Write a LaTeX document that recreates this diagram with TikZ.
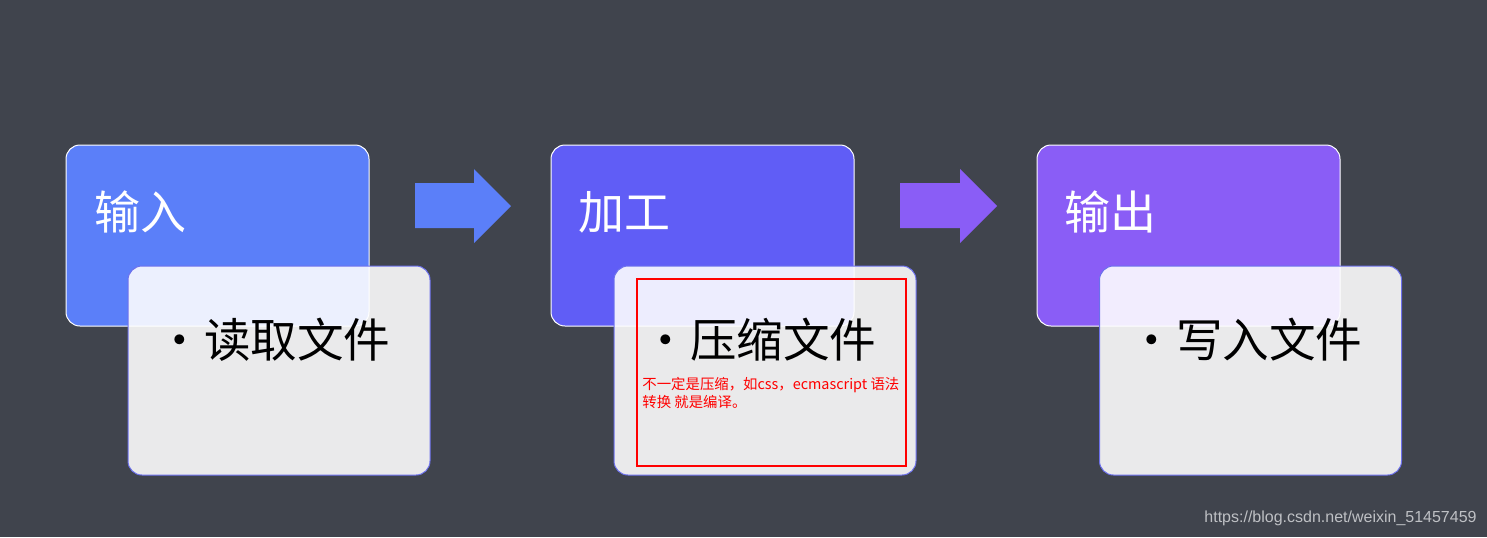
\documentclass[tikz,border=0pt]{standalone}
\usepackage{fontspec}
\setmainfont{Noto Sans CJK SC}
\newfontfamily\urlfont{Liberation Sans}
\usepackage{tikz}
\usetikzlibrary{positioning}

\definecolor{bgdark}{RGB}{64,68,77}
\definecolor{inblue}{RGB}{91,127,249}
\definecolor{procblue}{RGB}{96,93,246}
\definecolor{outviolet}{RGB}{138,93,246}
\definecolor{cardedge}{RGB}{108,112,236}

\tikzset{
    headbox/.style={rounded corners=7pt, draw=white, line width=0.5pt, minimum width=151.5pt, minimum height=90.5pt, inner sep=0pt},
    card/.style={rounded corners=7pt, draw=cardedge, line width=0.5pt, fill=white, fill opacity=0.89, minimum width=151pt, minimum height=104.5pt, inner sep=0pt},
    headtext/.style={text=white, font=\fontsize{23}{27}\selectfont, inner sep=0pt, anchor=west},
    itemtext/.style={text=black, font=\fontsize{23.3}{27}\selectfont, inner sep=0pt, anchor=east}
}

\begin{document}
\begin{tikzpicture}[x=0.5pt,y=0.5pt,yscale=-1,xscale=1]
    %Background
    \fill[bgdark] (0,0) rectangle (1487,537);
    \useasboundingbox (0,0) rectangle (1487,537);

    %Shape: Rounded Rect [id:input]
    \node[headbox, fill=inblue] (inbox) at (217.5,235.5) {};
    %Shape: Rounded Rect [id:process]
    \node[headbox, fill=procblue] (procbox) at (702.5,235.5) {};
    %Shape: Rounded Rect [id:output]
    \node[headbox, fill=outviolet] (outbox) at (1188.5,235.5) {};

    %Shape: Right Arrow [id:arrow1]
    \fill[inblue] (415,183) -- (474,183) -- (474,169) -- (511,206) -- (474,243) -- (474,228) -- (415,228) -- cycle;
    %Shape: Right Arrow [id:arrow2]
    \fill[outviolet] (900,183) -- (960,183) -- (960,169) -- (997,206) -- (960,243) -- (960,228) -- (900,228) -- cycle;

    %Shape: Rounded Rect [id:read]
    \node[card] (readcard) at (279,370.5) {};
    %Shape: Rounded Rect [id:compress]
    \node[card] (compcard) at (765,370.5) {};
    %Shape: Rounded Rect [id:write]
    \node[card] (writecard) at (1250.5,370.5) {};

    % Text Node
    \node[headtext] (intitle) at (94,212) {输入};
    % Text Node
    \node[headtext] (proctitle) at (578,212) {加工};
    % Text Node
    \node[headtext] (outtitle) at (1064,212) {输出};

    % Text Node
    \node[itemtext] (readtext) at (391,340) {•\hspace{0.5pt}读取文件};
    % Text Node
    \node[itemtext] (comptext) at (877,340) {•\hspace{0.5pt}压缩文件};
    % Text Node
    \node[itemtext] (writetext) at (1363,340) {•\hspace{0.5pt}写入文件};

    %Shape: Rectangle [id:note]
    \draw[red, line width=1pt] (637,279) rectangle (906,466);
    % Text Node
    \node[text=red, font=\fontsize{7.2}{9}\selectfont, align=left, anchor=north west, inner sep=0pt] (notetext) at (642,377) {不一定是压缩，如css，ecmascript 语法\\转换 就是编译。};

    % Text Node
    \node[text={rgb,255:red,190;green,192;blue,196}, font=\urlfont\fontsize{8}{10}\selectfont, anchor=east, inner sep=0pt] (mark) at (1477,518) {https://blog.csdn.net/weixin\_51457459};
\end{tikzpicture}
\end{document}
